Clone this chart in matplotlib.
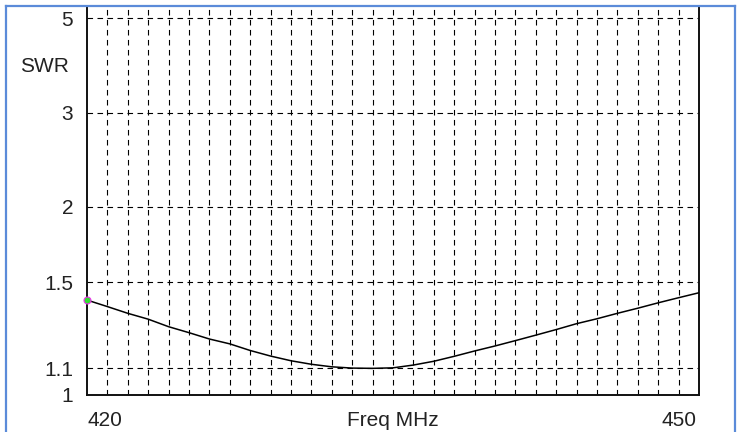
import numpy as np
import matplotlib
matplotlib.use('Agg')
from matplotlib import pyplot as plt
from matplotlib.lines import Line2D

plt.rcParams['font.family'] = ['Liberation Sans', 'DejaVu Sans']

# SWR readings, one per MHz
freq = np.arange(420, 451)
swr = [1.404, 1.371, 1.338, 1.310, 1.275, 1.248, 1.220, 1.199, 1.171, 1.148,
       1.129, 1.115, 1.105, 1.100, 1.099, 1.101, 1.112, 1.127, 1.147, 1.169,
       1.190, 1.213, 1.237, 1.262, 1.289, 1.312, 1.338, 1.363, 1.390, 1.416,
       1.442]

swr_ticks = [1, 1.1, 1.5, 2, 3, 5]
swr_labels = ['1', '1.1', '1.5', '2', '3', '5']


# SWR axis is linear in reflection coefficient
def to_gamma(s):
    s = np.asarray(s, dtype=float)
    return (s - 1) / (s + 1)


def from_gamma(g):
    g = np.asarray(g, dtype=float)
    return (1 + g) / (1 - g)


W, H = 741, 432
fig = plt.figure(figsize=(W / 100, H / 100), dpi=100)
ax = fig.add_axes([87 / W, (H - 395) / H, (699 - 87) / W, (395 - 6) / H])

ax.set_yscale('function', functions=(to_gamma, from_gamma))
ax.set_xlim(420, 450)
ax.set_ylim(1, from_gamma((395 - 6) / 565))

ax.plot(freq, swr, color='black', lw=1.1, zorder=3)
ax.plot(freq[0], swr[0], marker='o', ms=5, mfc='#33dd33', mec='#ee33ee',
        mew=0.8, clip_on=False, zorder=4)

# dashed grid
dash = (0, (5, 4))
for f in range(421, 450):
    ax.axvline(f, color='black', lw=0.8, ls=dash, zorder=1)
for s in swr_ticks[1:]:
    ax.axhline(s, color='black', lw=0.8, ls=dash, zorder=1)

fs = 15
txt = '#222222'
ax.set_xticks([])
ax.set_yticks(swr_ticks)
ax.set_yticklabels(swr_labels, fontsize=fs, color=txt)
ax.yaxis.set_minor_locator(matplotlib.ticker.NullLocator())
ax.tick_params(axis='y', length=0, pad=10)

ax.spines['top'].set_visible(False)
for side in ['left', 'bottom', 'right']:
    ax.spines[side].set_linewidth(1.4)
    ax.spines[side].set_color('#111111')

fig.text(20 / W, 1 - 66 / H, 'SWR', fontsize=fs, color=txt,
         ha='left', va='center')
fig.text(88 / W, 1 - 420 / H, '420', fontsize=fs, color=txt,
         ha='left', va='center')
fig.text(697 / W, 1 - 420 / H, '450', fontsize=fs, color=txt,
         ha='right', va='center')
fig.text(393 / W, 1 - 420 / H, 'Freq MHz', fontsize=fs, color=txt,
         ha='center', va='center')

# blue frame of the window
blue = '#5b8bd9'
fig.add_artist(Line2D([6 / W, 6 / W], [0, 1 - 6 / H], color=blue, lw=1.6))
fig.add_artist(Line2D([6 / W, 735 / W], [1 - 6 / H, 1 - 6 / H], color=blue, lw=1.6))
fig.add_artist(Line2D([735 / W, 735 / W], [0, 1 - 6 / H], color=blue, lw=1.6))

fig.savefig('out.png', dpi=100)
